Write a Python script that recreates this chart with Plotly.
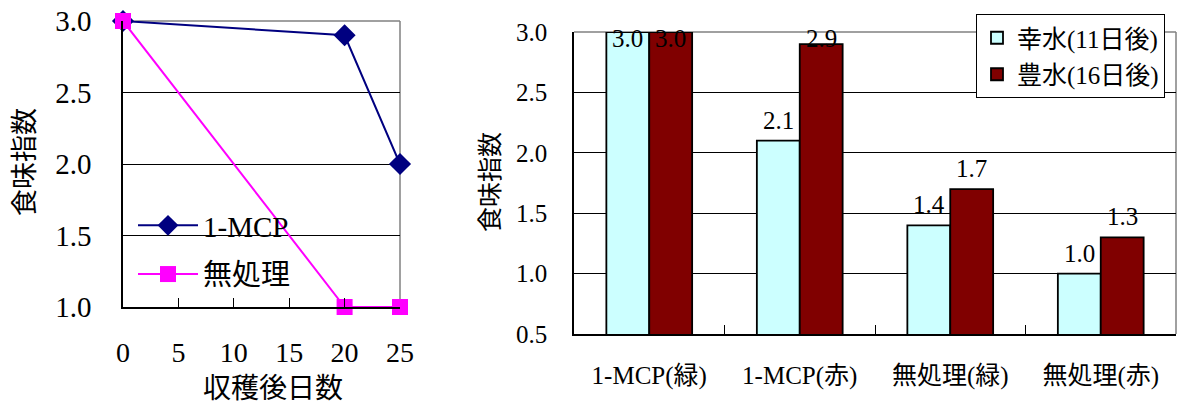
import plotly.graph_objects as go

# ---- data ----
days = [0, 20, 25]
mcp_scores = [3.0, 2.9, 2.0]
untreated_scores = [3.0, 1.0, 1.0]

categories = ["1-MCP(緑)", "1-MCP(赤)", "無処理(緑)", "無処理(赤)"]
kousui = [3.0, 2.1, 1.4, 1.0]
housui = [3.0, 2.9, 1.7, 1.3]
series_names = ["幸水(11日後)", "豊水(16日後)"]

W, H = 1177, 405
FONT = "'Liberation Serif', 'Noto Sans CJK JP', serif"


def f(size):
    return dict(size=size, family=FONT, color="black")


fig = go.Figure()

# ---- left line chart ----
fig.add_trace(go.Scatter(
    x=days, y=mcp_scores, name="1-MCP", mode="lines+markers",
    line=dict(color="#000080", width=2),
    marker=dict(symbol="diamond", size=17, color="#000080"),
    cliponaxis=False, legend="legend", legendgroup="a", xaxis="x", yaxis="y"))
fig.add_trace(go.Scatter(
    x=days, y=untreated_scores, name="無処理", mode="lines+markers",
    line=dict(color="#FF00FF", width=2),
    marker=dict(symbol="square", size=16, color="#FF00FF"),
    cliponaxis=False, legend="legend", legendgroup="b", xaxis="x", yaxis="y"))

# ---- right bar chart ----
fig.add_trace(go.Bar(
    x=categories, y=kousui, name=series_names[0],
    marker=dict(color="#CCFFFF", line=dict(color="black", width=1.8)),
    legend="legend2", legendgroup="c", xaxis="x2", yaxis="y2"))
fig.add_trace(go.Bar(
    x=categories, y=housui, name=series_names[1],
    marker=dict(color="#800000", line=dict(color="black", width=1.8)),
    legend="legend2", legendgroup="d", xaxis="x2", yaxis="y2"))

# value labels
annotations = []
YMAX2 = 3.0
for vals, shift in ((kousui, -21.5), (housui, 21.5)):
    for i, v in enumerate(vals):
        if v > 2.8:
            annotations.append(dict(x=i, y=YMAX2, xref="x2", yref="y2", text=f"{v:.1f}",
                                    showarrow=False, xshift=shift, yanchor="top", yshift=9,
                                    font=f(25)))
        else:
            annotations.append(dict(x=i, y=v, xref="x2", yref="y2", text=f"{v:.1f}",
                                    showarrow=False, xshift=shift, yanchor="bottom", yshift=5,
                                    font=f(25)))

# axis titles
annotations.append(dict(text="食味指数", x=25 / W, y=1 - 162 / H, xref="paper", yref="paper",
                        showarrow=False, textangle=-90, xanchor="center", yanchor="middle",
                        font=f(27)))
annotations.append(dict(text="収穫後日数", x=273 / W, y=1 - 388 / H, xref="paper", yref="paper",
                        showarrow=False, xanchor="center", yanchor="middle",
                        font=f(28)))
annotations.append(dict(text="食味指数", x=490 / W, y=1 - 182 / H, xref="paper", yref="paper",
                        showarrow=False, textangle=-90, xanchor="center", yanchor="middle",
                        font=f(25)))

shapes = []
# white legend backing behind the series (hides gridline only)
shapes.append(dict(type="rect", xref="x domain", yref="y domain",
                   x0=10 / 277, x1=182 / 277, y0=0.06, y1=0.36,
                   fillcolor="white", line=dict(width=0), layer="below"))
for xr, yr in (("x", "y"), ("x2", "y2")):
    shapes.append(dict(type="line", xref=f"{xr} domain", yref=f"{yr} domain",
                       x0=0, x1=1, y0=1, y1=1, line=dict(color="#808080", width=1.5), layer="below"))
    shapes.append(dict(type="line", xref=f"{xr} domain", yref=f"{yr} domain",
                       x0=1, x1=1, y0=0, y1=1, line=dict(color="#808080", width=1.5), layer="below"))

fig.update_layout(
    width=W, height=H,
    margin=dict(l=0, r=0, t=0, b=0, autoexpand=False),
    paper_bgcolor="white", plot_bgcolor="white",
    font=f(20),
    barmode="group", bargap=0.43, bargroupgap=0,
    annotations=annotations, shapes=shapes,
    xaxis=dict(domain=[123 / W, 400 / W], range=[0, 25], tickvals=[0, 5, 10, 15, 20, 25],
               ticks="inside", ticklen=9, tickcolor="black", showline=True, linecolor="black",
               linewidth=1.5, showgrid=False, zeroline=False, tickfont=f(28),
               ticklabelstandoff=20, anchor="y", automargin=False),
    yaxis=dict(domain=[1 - 307 / H, 1 - 21 / H], range=[1, 3], dtick=0.5, tickformat=".1f",
               showgrid=True, gridcolor="black", gridwidth=1, showline=True, linecolor="black",
               linewidth=1.5, zeroline=False, ticks="", tickfont=f(29),
               ticklabelstandoff=24, anchor="x", automargin=False),
    xaxis2=dict(domain=[574 / W, 1176 / W], type="category", range=[-0.5, 3.5],
                tickson="boundaries", ticks="inside", ticklen=9,
                tickcolor="black", showline=True, linecolor="black", linewidth=1.5,
                showgrid=False, tickfont=f(25), ticklabelstandoff=18, anchor="y2",
                automargin=False),
    yaxis2=dict(domain=[1 - 334 / H, 1 - 32 / H], range=[0.5, 3.0], dtick=0.5, tickformat=".1f",
                showgrid=True, gridcolor="black", gridwidth=1, showline=True, linecolor="black",
                linewidth=1.5, zeroline=False, ticks="", tickfont=f(25),
                ticklabelstandoff=20, anchor="x2", automargin=False),
    legend=dict(x=133 / W, y=1 - 200 / H, xanchor="left", yanchor="top",
                bgcolor="rgba(0,0,0,0)", borderwidth=0, font=f(29), itemwidth=60,
                traceorder="grouped", tracegroupgap=8),
    legend2=dict(x=976 / W, y=1 - 14 / H, xanchor="left", yanchor="top",
                 bgcolor="white", bordercolor="black", borderwidth=1, font=f(25),
                 traceorder="grouped", tracegroupgap=1),
)

fig.write_html("out.html", config={"displayModeBar": False},
               post_script="document.body.style.margin='0';")
